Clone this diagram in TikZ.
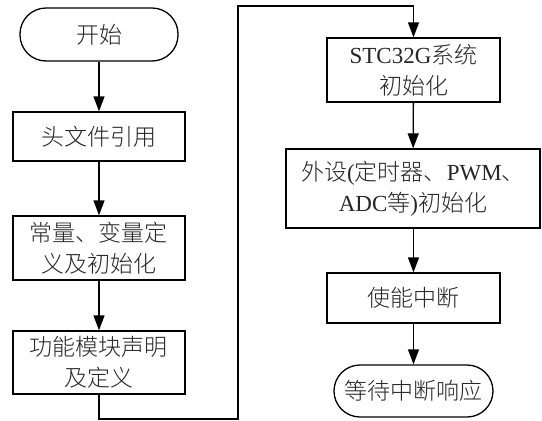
\documentclass[tikz,border=0pt]{standalone}
\usepackage{fontspec}
\setmainfont{Liberation Serif}
\newfontfamily\cjk{Noto Sans CJK SC Light}
\usetikzlibrary{arrows.meta}
\newcommand{\lt}[1]{{\rmfamily #1}}
\begin{document}
\begin{tikzpicture}[x=1pt,y=-1pt,
  box/.style={draw,line width=1.3pt,inner sep=0pt,align=center,
    font=\cjk\fontsize{23}{31}\selectfont,text=black!85},
  term/.style={box,rounded corners=26pt},
  arr/.style={draw,line width=1.3pt,-{Triangle[length=15pt,width=11pt]}},
  ln/.style={draw,line width=1.3pt}]
\useasboundingbox (0,0) rectangle (542,421);
\node[term,minimum width=158pt,minimum height=53pt] (s) at (99,34.5) {开始};
\node[box,minimum width=172pt,minimum height=49pt] (n1) at (99,136.5) {头文件引用};
\node[box,minimum width=172pt,minimum height=64pt] (n2) at (99,248) {常量、变量定\\义及初始化};
\node[box,minimum width=172pt,minimum height=63pt] (n3) at (99,362.5) {功能模块声明\\及定义};
\node[box,minimum width=173pt,minimum height=64pt] (r1) at (413.5,70) {\lt{STC32G}系统\\初始化};
\node[box,minimum width=254pt,minimum height=79pt] (r2) at (413,188.5) {外设\lt{(}定时器、\lt{PWM}、\\\lt{ADC}等\lt{)}初始化};
\node[box,minimum width=173pt,minimum height=50pt] (r3) at (413.5,298) {使能中断};
\node[term,minimum width=159pt,minimum height=52pt] (r4) at (413.5,391) {等待中断响应};
\coordinate (c1) at (99,419);
\coordinate (c2) at (238,419);
\coordinate (c3) at (238,6);
\coordinate (c4) at (413.5,6);
\draw[arr] (s) -- (n1);
\draw[arr] (n1) -- (n2);
\draw[arr] (n2) -- (n3);
\draw[ln] (n3.south) -- (c1) -- (c2) -- (c3) -- (c4);
\draw[arr] (c4) -- (r1.north);
\draw[arr] (r1) -- (r2);
\draw[arr] (r2.south -| r3.north) -- (r3);
\draw[arr] (r3) -- (r4);
\end{tikzpicture}
\end{document}
